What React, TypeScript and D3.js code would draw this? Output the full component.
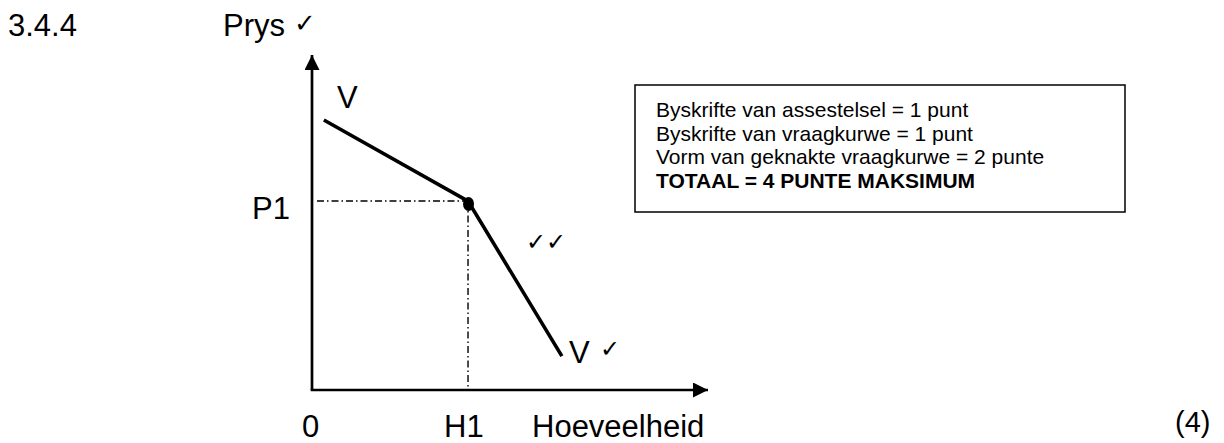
import React from 'react';
import * as d3 from 'd3';

// Kinked demand curve (V) in abstract units: quantity on x, price on y
const curveQty = [0.3, 3.94, 6.31];
const curvePrice = [8.06, 5.64, 1.01];
const kinkIndex = 1;

const axisLabels = { y: 'Prys', x: 'Hoeveelheid', origin: '0', p1: 'P1', h1: 'H1' };

const markingLines = [
  'Byskrifte van assestelsel = 1 punt',
  'Byskrifte van vraagkurwe = 1 punt',
  'Vorm van geknakte vraagkurwe = 2 punte',
];
const markingTotal = 'TOTAAL = 4 PUNTE MAKSIMUM';

const TICK = '\u2713';
const FONT = 'Liberation Sans, Arial, sans-serif';
const TICK_FONT = 'DejaVu Sans';

const width = 1224;
const height = 443;
const fs = 31;

export default function App() {
  const x = d3.scaleLinear().domain([0, 10]).range([312, 708]);
  const y = d3.scaleLinear().domain([0, 10]).range([390, 55]);

  const pts: [number, number][] = curveQty.map((q, i) => [x(q), y(curvePrice[i])]);
  const line = d3.line();
  const kx = pts[kinkIndex][0];
  const ky = pts[kinkIndex][1];
  const dashDot = '7,3,1.5,3';

  return (
    <svg
      width={width}
      height={height}
      style={{ position: 'absolute', left: 0, top: 0, background: '#fff' }}
      fontFamily={FONT}
    >
      <defs>
        <marker id="arrow" viewBox="0 0 10 10" refX="10" refY="5" markerUnits="userSpaceOnUse"
          markerWidth="15" markerHeight="15" orient="auto">
          <path d="M0,0 L10,5 L0,10 z" fill="#000" />
        </marker>
      </defs>

      {/* question number & axis title */}
      <text x={8} y={36} fontSize={fs}>3.4.4</text>
      <text x={223} y={36} fontSize={fs}>{axisLabels.y}</text>
      <text x={294} y={32} fontSize={26} fontFamily={TICK_FONT} fontWeight={200}>{TICK}</text>

      {/* guide lines */}
      <line x1={x(0) + 5} y1={ky} x2={kx} y2={ky} stroke="#000" strokeWidth={1.4} strokeDasharray={dashDot} />
      <line x1={kx} y1={ky} x2={kx} y2={y(0)} stroke="#000" strokeWidth={1.4} strokeDasharray={dashDot} />

      {/* axes */}
      <line x1={x(0)} y1={y(0)} x2={x(0)} y2={y(10)} stroke="#000" strokeWidth={2.7} markerEnd="url(#arrow)" />
      <line x1={x(0) - 1.3} y1={y(0)} x2={x(10)} y2={y(0)} stroke="#000" strokeWidth={2.7} markerEnd="url(#arrow)" />

      {/* demand curve */}
      <path d={line(pts) || ''} fill="none" stroke="#000" strokeWidth={3.6} />
      <ellipse cx={kx + 0.5} cy={ky + 3} rx={5.5} ry={7} fill="#000" />

      {/* labels */}
      <text x={pts[0][0] + 13} y={pts[0][1] - 12} fontSize={fs}>V</text>
      <text x={pts[2][0] + 7} y={363} fontSize={fs}>V</text>
      <text x={600} y={357} fontSize={24} fontFamily={TICK_FONT} fontWeight={200}>{TICK}</text>
      <text x={526} y={250} fontSize={24} fontFamily={TICK_FONT} fontWeight={200}>{TICK}{TICK}</text>
      <text x={252} y={219} fontSize={fs}>{axisLabels.p1}</text>
      <text x={x(0) - 10} y={437} fontSize={fs}>{axisLabels.origin}</text>
      <text x={kx - 24} y={437} fontSize={fs}>{axisLabels.h1}</text>
      <text x={532} y={437} fontSize={fs}>{axisLabels.x}</text>
      <text x={1175} y={432} fontSize={29}>(4)</text>

      {/* marking box */}
      <rect x={635} y={85} width={490} height={127} fill="none" stroke="#000" strokeWidth={1.5} />
      {markingLines.map((t, i) => (
        <text key={t} x={656} y={117 + i * 23.6} fontSize={21}>{t}</text>
      ))}
      <text x={656} y={117 + markingLines.length * 23.6} fontSize={21} fontWeight="bold">{markingTotal}</text>
    </svg>
  );
}
